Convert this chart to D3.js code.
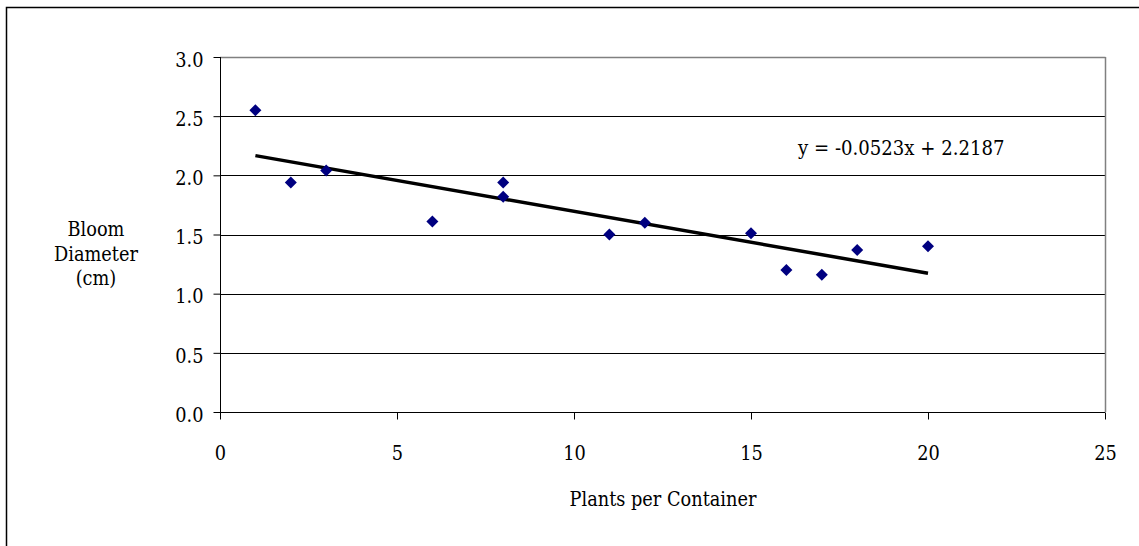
<!DOCTYPE html>
<html>
<head>
<meta charset="utf-8">
<script src="https://cdn.jsdelivr.net/npm/d3@7"></script>
<style>
  html, body { margin: 0; padding: 0; background: #fff; }
  svg { display: block; }
</style>
</head>
<body>
<svg id="chart" width="1139" height="546"></svg>
<script>
// ---- data ----
const plants = [1, 2, 3, 6, 8, 8, 11, 12, 15, 16, 17, 18, 20];
const bloomDiameter = [2.55, 1.94, 2.04, 1.61, 1.94, 1.82, 1.50, 1.60, 1.51, 1.20, 1.16, 1.37, 1.40];
const xTicks = [0, 5, 10, 15, 20, 25];
const yTicks = [0.0, 0.5, 1.0, 1.5, 2.0, 2.5, 3.0];
const trendSlope = -0.0523;
const trendIntercept = 2.2187;
const trendRange = [1, 20];
const equationLabel = "y = -0.0523x + 2.2187";
const xTitle = "Plants per Container";
const yTitleLines = ["Bloom", "Diameter", "(cm)"];

// ---- style ----
const FONT = "DejaVu Serif";
const FSIZE = 20.4;
const SQUEEZE = 0.87; // narrow the serif glyphs toward a Times-like width

function narrow(sel) {
  sel.each(function () {
    const w = this.getComputedTextLength();
    if (w > 0) {
      d3.select(this).attr("textLength", w * SQUEEZE).attr("lengthAdjust", "spacingAndGlyphs");
    }
  });
}

// ---- layout ----
const svg = d3.select("#chart");
const plot = { left: 220, right: 1105, top: 57, bottom: 412 };

// outer chart border
svg.append("rect")
  .attr("x", 6.5).attr("y", 7.5)
  .attr("width", 1200).attr("height", 600)
  .attr("fill", "none").attr("stroke", "#000").attr("stroke-width", 1.5);

const x = d3.scaleLinear().domain([0, 25]).range([plot.left, plot.right]);
const y = d3.scaleLinear().domain([0, 3]).range([plot.bottom, plot.top]);

// gridlines
svg.append("g")
  .selectAll("line")
  .data(yTicks.filter(t => t > 0 && t < 3))
  .join("line")
  .attr("x1", plot.left).attr("x2", plot.right)
  .attr("y1", d => Math.round(y(d)) + 0.5).attr("y2", d => Math.round(y(d)) + 0.5)
  .attr("stroke", "#000").attr("stroke-width", 1);

// plot border top & right (grey)
svg.append("line")
  .attr("x1", plot.left).attr("x2", plot.right + 0.5)
  .attr("y1", plot.top + 0.5).attr("y2", plot.top + 0.5)
  .attr("stroke", "#808080").attr("stroke-width", 1.5);
svg.append("line")
  .attr("x1", plot.right + 0.5).attr("x2", plot.right + 0.5)
  .attr("y1", plot.top).attr("y2", plot.bottom)
  .attr("stroke", "#808080").attr("stroke-width", 1.5);

// axes
const xAxis = d3.axisBottom(x).tickValues(xTicks).tickSize(7).tickPadding(26)
  .tickFormat(d3.format("d"));
const yAxis = d3.axisLeft(y).tickValues(yTicks).tickSize(7).tickPadding(10)
  .tickFormat(d3.format(".1f"));

const gx = svg.append("g").attr("transform", `translate(0,${plot.bottom + 0.5})`).call(xAxis);
const gy = svg.append("g").attr("transform", `translate(${plot.left + 0.5},0)`).call(yAxis);
[gx, gy].forEach(g => {
  g.attr("font-family", FONT).attr("font-size", FSIZE);
  g.select(".domain").remove();
  g.selectAll(".tick line").attr("stroke", "#000");
  g.selectAll("text").attr("fill", "#000");
});
gy.selectAll("text").attr("dy", "0.45em");
narrow(gx.selectAll("text"));
narrow(gy.selectAll("text"));

// axis lines
svg.append("line")
  .attr("x1", plot.left).attr("x2", plot.right)
  .attr("y1", plot.bottom + 0.5).attr("y2", plot.bottom + 0.5)
  .attr("stroke", "#000");
svg.append("line")
  .attr("x1", plot.left + 0.5).attr("x2", plot.left + 0.5)
  .attr("y1", plot.top).attr("y2", plot.bottom)
  .attr("stroke", "#000");

// trendline
svg.append("line")
  .attr("x1", x(trendRange[0])).attr("y1", y(trendSlope * trendRange[0] + trendIntercept))
  .attr("x2", x(trendRange[1])).attr("y2", y(trendSlope * trendRange[1] + trendIntercept))
  .attr("stroke", "#000").attr("stroke-width", 3.5);

// points
const diamond = d3.symbol().type(d3.symbolDiamond2).size(92);
svg.append("g")
  .selectAll("path")
  .data(plants.map((p, i) => [p, bloomDiameter[i]]))
  .join("path")
  .attr("d", diamond)
  .attr("transform", d => `translate(${x(d[0])},${y(d[1])})`)
  .attr("fill", "#000080");

// equation label
svg.append("text")
  .attr("x", 798).attr("y", 154.5)
  .attr("font-family", FONT).attr("font-size", FSIZE + 0.4)
  .attr("fill", "#000")
  .text(equationLabel)
  .call(narrow);

// x title
svg.append("text")
  .attr("x", 663).attr("y", 506)
  .attr("text-anchor", "middle")
  .attr("font-family", FONT).attr("font-size", FSIZE)
  .attr("fill", "#000")
  .text(xTitle)
  .call(narrow);

// y title
svg.append("g")
  .selectAll("text")
  .data(yTitleLines)
  .join("text")
  .attr("x", 96)
  .attr("y", (d, i) => 236 + i * 24.5)
  .attr("text-anchor", "middle")
  .attr("font-family", FONT).attr("font-size", FSIZE)
  .attr("fill", "#000")
  .text(d => d)
  .call(narrow);
</script>
</body>
</html>
